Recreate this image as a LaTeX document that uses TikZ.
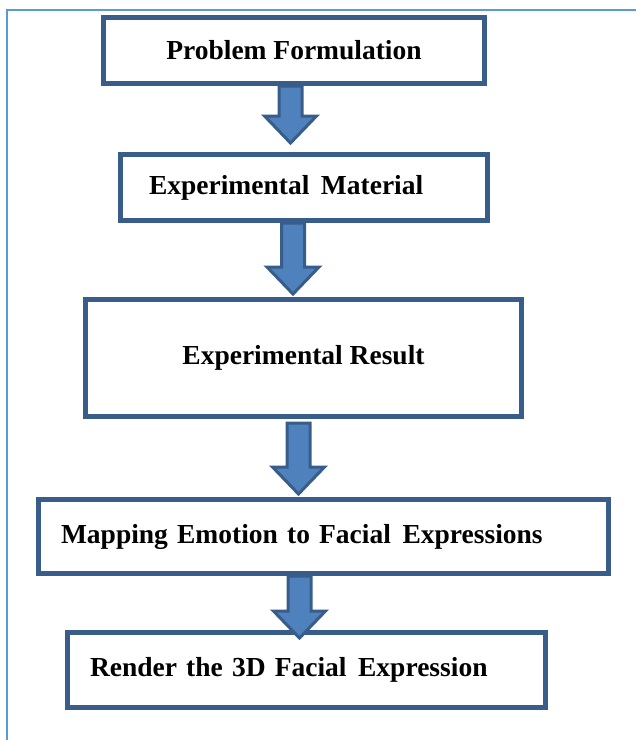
\documentclass[tikz,border=0pt]{standalone}
\usepackage{fontspec}
\setmainfont{Liberation Serif}
\usetikzlibrary{calc}

\definecolor{boxblue}{RGB}{56,93,138}
\definecolor{arrowfill}{RGB}{79,129,189}
\definecolor{pageblue}{RGB}{91,155,213}

\newcommand{\widegap}{\hspace{0.42em}}

\tikzset{
  stepbox/.style={draw=boxblue, line width=5pt, fill=white, inner ysep=0pt,
    font=\fontsize{27.5}{32}\selectfont\bfseries},
  blockarrow/.style={draw=boxblue, fill=arrowfill, line width=3pt,
    to path={let \p1=(\tikztostart), \p2=(\tikztotarget) in
      (\x1-11.5pt,\y1) -- (\x1-11.5pt,\y2+27pt) -- (\x1-26pt,\y2+27pt) -- (\x2,\y2)
      -- (\x1+26pt,\y2+27pt) -- (\x1+11.5pt,\y2+27pt) -- (\x1+11.5pt,\y1) -- cycle}}
}

\begin{document}
\begin{tikzpicture}[x=1pt,y=-1pt]
  \useasboundingbox (0,0) rectangle (636,740);
  % page frame
  \draw[pageblue, line width=2pt] (7,740) -- (7,10) -- (636,10);

  % the five steps
  \node[stepbox, minimum width=381pt, minimum height=66pt] (form) at (294,50.5) {Problem Formulation};
  \node[stepbox, text width=310pt, inner xsep=28.5pt, minimum height=66pt, align=left] (mat) at (304,187.5) {Experimental\widegap Material};
  \node[stepbox, minimum width=436pt, minimum height=117pt] (res) at (303.5,358) {Experimental Result};
  \node[stepbox, text width=525pt, inner xsep=22.5pt, minimum height=74pt, align=left] (map) at (323.5,536.5) {Mapping Emotion to Facial\widegap Expressions};
  \node[stepbox, text width=433pt, inner xsep=22.5pt, minimum height=75pt, align=left] (rend) at (306.5,670) {Render the 3D Facial\widegap Expression};

  % block arrows between steps
  \coordinate (c1) at (290.5,0);
  \coordinate (c2) at (293,0);
  \coordinate (c3) at (298.5,0);
  \coordinate (c4) at (299.5,0);
  \draw[blockarrow] (form.south -| c1) to ([yshift=9pt]mat.north -| c1);
  \draw[blockarrow] (mat.south -| c2) to ([yshift=3pt]res.north -| c2);
  \draw[blockarrow] ([yshift=-4pt]res.south -| c3) to ([yshift=3pt]map.north -| c3);
  \draw[blockarrow] (map.south -| c4) to ([yshift=-8pt]rend.north -| c4);
\end{tikzpicture}
\end{document}
